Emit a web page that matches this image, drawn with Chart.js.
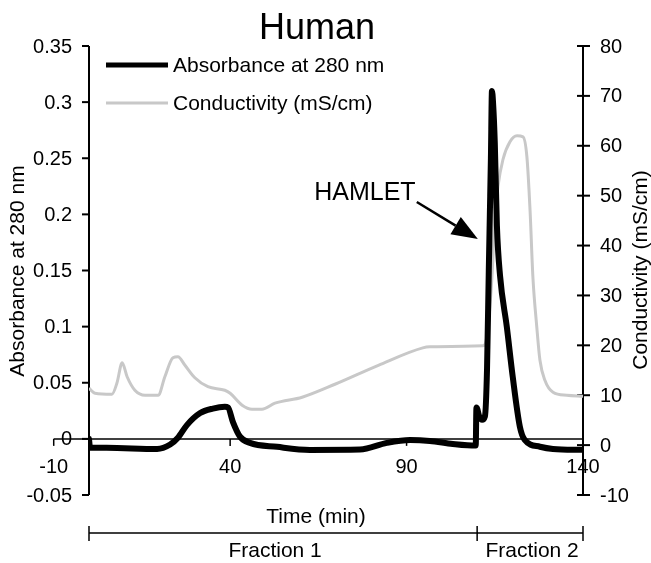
<!DOCTYPE html>
<html>
<head>
<meta charset="utf-8">
<script src="https://cdn.jsdelivr.net/npm/chart.js@4.4.1/dist/chart.umd.min.js"></script>
<style>
html, body { margin: 0; padding: 0; background: #fff; }
canvas { display: block; }
</style>
</head>
<body>
<canvas id="chart" width="651" height="563"></canvas>
<script>
// absorbance trace (min / AU)
const absTime = [0, 0.3, 5, 19.3, 23, 25.2, 27.8, 31.5, 35.1, 38.5, 39.4, 40.8, 42.8, 45.6, 53.3, 62.6, 76.8, 84.4, 91, 96.6, 103.1, 109.6, 109.8, 110.6, 111.4, 112.2, 112.8, 113.3, 113.6, 113.9, 114.2, 114.5, 115, 115.6, 116.5, 118.4, 120.1, 122.1, 123.5, 127.8, 131.5, 140];
const absValue = [0, -0.008, -0.008, -0.009, -0.005, 0.001, 0.0125, 0.023, 0.027, 0.0286, 0.028, 0.015, 0.002, -0.0036, -0.0071, -0.0098, -0.0095, -0.0036, -0.001, -0.0018, -0.0045, -0.006, 0.028, 0.02, 0.017, 0.02, 0.062, 0.15, 0.2, 0.25, 0.31, 0.3, 0.264, 0.19, 0.145, 0.1, 0.055, 0.011, -0.001, -0.007, -0.009, -0.0098];

// conductivity trace (min / mS/cm)
const condTime = [0, 1.7, 6.5, 7.9, 9.4, 10.8, 13, 15.9, 19.6, 21.5, 23.8, 25.2, 27.2, 30, 33.7, 38.5, 40, 43.4, 46.2, 49, 52.7, 60.4, 69.7, 82, 94.6, 96.6, 111.6, 112.4, 113.1, 114.2, 115, 115.9, 117.3, 119.3, 121.3, 123, 124.1, 125, 125.8, 126.9, 127.8, 129.2, 131.5, 135.4, 140];
const condValue = [11.4, 10.4, 10.2, 12.4, 16.5, 13.7, 11, 10, 10, 13.7, 17.5, 17.7, 16, 13.5, 11.7, 11, 10.4, 8, 7.2, 7.2, 8.4, 9.6, 12.2, 16, 19.5, 19.7, 19.9, 20.5, 23.7, 33.7, 45, 51.8, 57.2, 60.8, 62, 61.8, 57.8, 47, 33.7, 23.7, 17, 13, 10.6, 10, 9.8];

const timeTicks = [-10, 40, 90, 140];
const absTicks = [0.35, 0.3, 0.25, 0.2, 0.15, 0.1, 0.05, 0, -0.05];
const condTicks = [80, 70, 60, 50, 40, 30, 20, 10, 0, -10];

const fractionEdges = [0, 110, 140];
const fractionLabels = ["Fraction 1", "Fraction 2"];

const hamletText = "HAMLET";
const hamletAt = [78.2, 0.2125];
const arrowFrom = [92.9, 0.211];
const arrowTo = [110.2, 0.178];

const FONT = "'Liberation Sans', Arial, sans-serif";

function pts(xs, ys) {
  return xs.map((t, i) => ({x: t, y: ys[i]}));
}

// axes drawn Excel-style: y axis crossing at t=0, x axis crossing at 0 AU
const axesPlugin = {
  id: 'excelAxes',
  beforeDatasetsDraw(chart) {
    const {ctx} = chart;
    const {x, y, y2} = chart.scales;
    ctx.save();
    ctx.strokeStyle = '#000';
    ctx.fillStyle = '#000';
    ctx.font = '20px ' + FONT;

    // left axis
    const lx = x.getPixelForValue(0);
    ctx.lineWidth = 2;
    ctx.beginPath();
    ctx.moveTo(lx, y.getPixelForValue(0.35));
    ctx.lineTo(lx, y.getPixelForValue(-0.05));
    ctx.stroke();
    ctx.textAlign = 'right';
    ctx.textBaseline = 'middle';
    absTicks.forEach(v => {
      const py = y.getPixelForValue(v);
      ctx.beginPath();
      ctx.moveTo(lx - 7, py);
      ctx.lineTo(lx, py);
      ctx.stroke();
      ctx.fillText(String(v), lx - 17, py + 1);
    });

    // right axis
    const rx = x.getPixelForValue(140);
    ctx.beginPath();
    ctx.moveTo(rx, y2.getPixelForValue(80));
    ctx.lineTo(rx, y2.getPixelForValue(-10));
    ctx.stroke();
    ctx.textAlign = 'left';
    condTicks.forEach(v => {
      const py = y2.getPixelForValue(v);
      ctx.beginPath();
      ctx.moveTo(rx - 6, py);
      ctx.lineTo(rx + 7, py);
      ctx.stroke();
      ctx.fillText(String(v), rx + 17, py + 1);
    });

    // x axis along 0 AU
    const y0 = y.getPixelForValue(0);
    ctx.lineWidth = 1.5;
    ctx.beginPath();
    ctx.moveTo(x.getPixelForValue(-10), y0);
    ctx.lineTo(x.getPixelForValue(140), y0);
    ctx.stroke();
    ctx.textAlign = 'center';
    timeTicks.forEach(v => {
      const px = x.getPixelForValue(v);
      ctx.beginPath();
      ctx.moveTo(px, y0);
      ctx.lineTo(px, y0 + 7);
      ctx.stroke();
      ctx.fillText(String(v), px, y0 + 29);
    });
    ctx.restore();
  },
  afterDraw(chart) {
    const {ctx, chartArea: area} = chart;
    const {x, y} = chart.scales;
    ctx.save();
    ctx.fillStyle = '#000';
    ctx.strokeStyle = '#000';

    // title
    ctx.font = '36px ' + FONT;
    ctx.textAlign = 'center';
    ctx.textBaseline = 'alphabetic';
    ctx.fillText('Human', 317, 39);

    // legend
    ctx.font = '21px ' + FONT;
    ctx.textAlign = 'left';
    ctx.textBaseline = 'middle';
    const legend = [
      {label: chart.data.datasets[0].label, color: '#000', w: 5, y: 65},
      {label: chart.data.datasets[1].label, color: '#c8c8c8', w: 3, y: 103}
    ];
    legend.forEach(l => {
      ctx.strokeStyle = l.color;
      ctx.lineWidth = l.w;
      ctx.beginPath();
      ctx.moveTo(area.left + 17, l.y);
      ctx.lineTo(area.left + 79, l.y);
      ctx.stroke();
      ctx.fillStyle = '#000';
      ctx.fillText(l.label, area.left + 84, l.y + 1);
    });

    // axis titles
    ctx.textAlign = 'center';
    ctx.save();
    ctx.translate(18, 271);
    ctx.rotate(-Math.PI / 2);
    ctx.fillText('Absorbance at 280 nm', 0, 0);
    ctx.restore();
    ctx.save();
    ctx.translate(641, 270);
    ctx.rotate(-Math.PI / 2);
    ctx.fillText('Conductivity (mS/cm)', 0, 0);
    ctx.restore();
    ctx.fillText('Time (min)', 316, 517);

    // fraction brackets
    const by = 533;
    ctx.strokeStyle = '#000';
    ctx.lineWidth = 1.5;
    ctx.beginPath();
    ctx.moveTo(x.getPixelForValue(fractionEdges[0]), by);
    ctx.lineTo(x.getPixelForValue(fractionEdges[fractionEdges.length - 1]), by);
    fractionEdges.forEach(t => {
      const px = x.getPixelForValue(t);
      ctx.moveTo(px, by - 7);
      ctx.lineTo(px, by + 8);
    });
    ctx.stroke();
    fractionLabels.forEach((lab, i) => {
      const mid = (x.getPixelForValue(fractionEdges[i]) + x.getPixelForValue(fractionEdges[i + 1])) / 2;
      ctx.fillText(lab, i === 0 ? mid - 8 : mid + 2, 551);
    });

    // HAMLET annotation
    ctx.font = '25px ' + FONT;
    ctx.textBaseline = 'alphabetic';
    ctx.fillText(hamletText, x.getPixelForValue(hamletAt[0]), y.getPixelForValue(hamletAt[1]));
    const x0 = x.getPixelForValue(arrowFrom[0]), y0 = y.getPixelForValue(arrowFrom[1]);
    const x1 = x.getPixelForValue(arrowTo[0]), y1 = y.getPixelForValue(arrowTo[1]);
    const ang = Math.atan2(y1 - y0, x1 - x0);
    const hl = 26, hw = 10;
    const bx = x1 - hl * Math.cos(ang), byy = y1 - hl * Math.sin(ang);
    ctx.lineWidth = 2.5;
    ctx.beginPath();
    ctx.moveTo(x0, y0);
    ctx.lineTo(bx, byy);
    ctx.stroke();
    ctx.beginPath();
    ctx.moveTo(x1, y1);
    ctx.lineTo(bx + hw * Math.sin(ang), byy - hw * Math.cos(ang));
    ctx.lineTo(bx - hw * Math.sin(ang), byy + hw * Math.cos(ang));
    ctx.closePath();
    ctx.fill();
    ctx.restore();
  }
};

new Chart(document.getElementById('chart'), {
  type: 'line',
  data: {
    datasets: [
      {
        label: 'Absorbance at 280 nm',
        data: pts(absTime, absValue),
        yAxisID: 'y',
        borderColor: '#000',
        borderWidth: 6,
        borderJoinStyle: 'round',
        borderCapStyle: 'round',
        pointRadius: 0,
        cubicInterpolationMode: 'monotone',
        order: 0
      },
      {
        label: 'Conductivity (mS/cm)',
        data: pts(condTime, condValue),
        yAxisID: 'y2',
        borderColor: '#c8c8c8',
        borderWidth: 3,
        borderJoinStyle: 'round',
        pointRadius: 0,
        cubicInterpolationMode: 'monotone',
        order: 1
      }
    ]
  },
  options: {
    responsive: false,
    devicePixelRatio: 1,
    animation: false,
    layout: { padding: { left: 89, right: 68, top: 46, bottom: 68 } },
    plugins: { legend: { display: false }, tooltip: { enabled: false } },
    scales: {
      x: { type: 'linear', min: 0, max: 140, display: false },
      y: { type: 'linear', min: -0.05, max: 0.35, display: false },
      y2: { type: 'linear', min: -10, max: 80, display: false }
    }
  },
  plugins: [axesPlugin]
});
</script>
</body>
</html>
